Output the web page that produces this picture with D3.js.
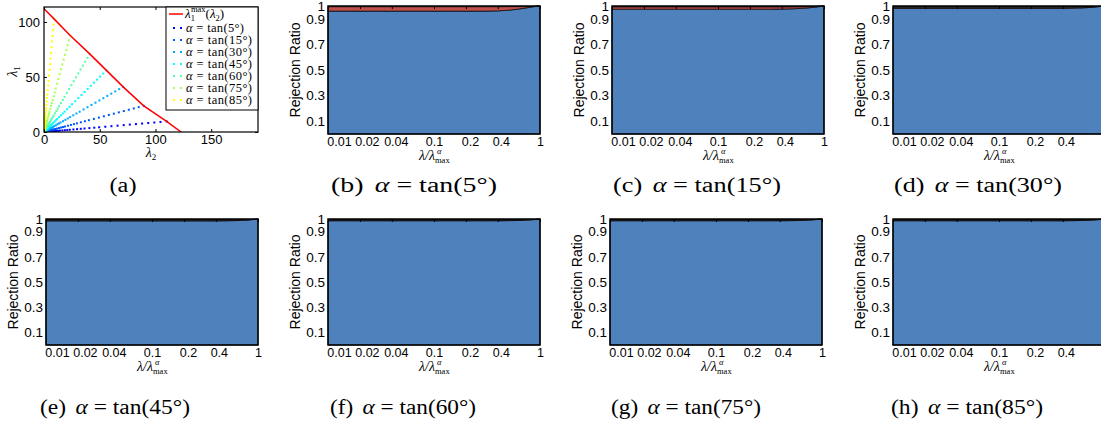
<!DOCTYPE html>
<html>
<head>
<meta charset="utf-8">
<title>Rejection ratio panels</title>
<script src="https://cdn.jsdelivr.net/npm/d3@7"></script>
<style>
  body { margin: 0; background: #fff; }
  text { font-family: "Liberation Sans", Arial, sans-serif; fill: #000; }
  .serif { font-family: "Liberation Serif", "Times New Roman", serif; }
</style>
</head>
<body>
<script>
// ---- panel (a): lambda_1^max(lambda_2) and the rays ----
var curveLam2 = [0, 9, 23.5, 41, 56, 71, 89.5, 110, 123];
var curveLam1 = [112, 102.8, 87.7, 71, 56, 41, 23.8, 9.6, 0];

var angles = [5, 15, 30, 45, 60, 75, 85];
var rayEndLam2 = [110, 89.5, 71, 56, 41, 23.5, 9];
var rayEndLam1 = [9.6, 23.8, 41, 56, 71, 87.7, 102.8];
var rayColors = ["#0000ff", "#0055ff", "#00aaff", "#00ffff", "#55ffaa", "#aaff55", "#ffff00"];
var rayFrac = [0.01, 0.012, 0.014, 0.016, 0.019, 0.022, 0.026, 0.03, 0.035, 0.04,
               0.046, 0.053, 0.06, 0.07, 0.08, 0.09, 0.1, 0.115, 0.13, 0.15,
               0.17, 0.19, 0.21, 0.24, 0.27, 0.3, 0.33, 0.37, 0.41, 0.45,
               0.5, 0.55, 0.6, 0.65, 0.7, 0.75, 0.8, 0.85, 0.9, 0.95, 1];

// ---- panels (b)-(h): rejection ratio vs lambda/lambda_max ----
var lamFrac = [0.01, 0.02, 0.04, 0.1, 0.2, 0.3, 0.4, 0.5, 0.6, 0.7, 0.8, 0.9, 1];
var blueB = [0.96, 0.96, 0.96, 0.96, 0.96, 0.96, 0.962, 0.967, 0.974, 0.982, 0.99, 0.996, 1];
var redB  = [0.034, 0.034, 0.034, 0.034, 0.034, 0.034, 0.032, 0.028, 0.021, 0.013, 0.006, 0.002, 0];
var blueC = [0.975, 0.975, 0.975, 0.975, 0.975, 0.975, 0.976, 0.978, 0.981, 0.985, 0.99, 0.995, 1];
var redC  = [0.017, 0.017, 0.017, 0.017, 0.017, 0.017, 0.016, 0.014, 0.012, 0.009, 0.006, 0.003, 0];
var blueD = [0.982, 0.982, 0.982, 0.982, 0.982, 0.982, 0.982, 0.983, 0.985, 0.988, 0.992, 0.996, 1];
var redD  = [0.005, 0.005, 0.005, 0.005, 0.005, 0.005, 0.005, 0.005, 0.004, 0.003, 0.002, 0.001, 0];
var blueE = [0.985, 0.985, 0.985, 0.985, 0.985, 0.985, 0.985, 0.986, 0.987, 0.989, 0.992, 0.996, 1];
var redE  = [0.004, 0.004, 0.004, 0.004, 0.004, 0.004, 0.004, 0.004, 0.003, 0.003, 0.002, 0.001, 0];
var blueF = [0.986, 0.986, 0.986, 0.986, 0.986, 0.986, 0.986, 0.987, 0.988, 0.99, 0.993, 0.996, 1];
var redF  = [0.003, 0.003, 0.003, 0.003, 0.003, 0.003, 0.003, 0.003, 0.003, 0.002, 0.002, 0.001, 0];
var blueG = [0.986, 0.986, 0.986, 0.986, 0.986, 0.986, 0.986, 0.987, 0.988, 0.99, 0.993, 0.996, 1];
var redG  = [0.003, 0.003, 0.003, 0.003, 0.003, 0.003, 0.003, 0.003, 0.003, 0.002, 0.002, 0.001, 0];
var blueH = [0.986, 0.986, 0.986, 0.986, 0.986, 0.986, 0.986, 0.987, 0.988, 0.99, 0.993, 0.996, 1];
var redH  = [0.003, 0.003, 0.003, 0.003, 0.003, 0.003, 0.003, 0.003, 0.003, 0.002, 0.002, 0.001, 0];

var xTicks = [0.01, 0.02, 0.04, 0.1, 0.2, 0.4, 1];
var xTickLabels = ["0.01", "0.02", "0.04", "0.1", "0.2", "0.4", "1"];
var xLabelShift = [11, 7, 4, 0, 4, 3, 0];   // labels sit a little right of their ticks in the original
var yTicks = [0.1, 0.3, 0.5, 0.7, 0.9, 1];
var yTickLabels = ["0.1", "0.3", "0.5", "0.7", "0.9", "1"];

var W = 1101, H = 421;
var svg = d3.select("body").append("svg").attr("width", W).attr("height", H);

function caption(cx, y, letter, angle, width) {
    var t = svg.append("text").attr("class", "serif")
        .attr("x", cx).attr("y", y)
        .attr("text-anchor", "middle")
        .style("font-size", "20px")
        .attr("textLength", width).attr("lengthAdjust", "spacingAndGlyphs");
    t.append("tspan").text("(" + letter + ")");
    if (angle != null) {
        t.append("tspan").attr("dx", 8).style("font-style", "italic").text("α");
        t.append("tspan").text(" = tan(" + angle + "°)");
    }
}

// ================= panel (a) =================
(function () {
    var L = 44, T = 7, Wd = 214, Ht = 125;
    var x = d3.scaleLinear().domain([0, 192]).range([L, L + Wd]);
    var y = d3.scaleLinear().domain([0, 113.6]).range([T + Ht, T]);
    var g = svg.append("g");

    g.append("clipPath").attr("id", "clipA")
        .append("rect").attr("x", L).attr("y", T).attr("width", Wd).attr("height", Ht);
    var inner = g.append("g").attr("clip-path", "url(#clipA)");

    angles.forEach(function (a, i) {
        inner.selectAll(".ray" + i)
            .data(rayFrac)
            .enter().append("rect")
            .attr("x", function (f) { return x(f * rayEndLam2[i]) - 1; })
            .attr("y", function (f) { return y(f * rayEndLam1[i]) - 1; })
            .attr("width", 2).attr("height", 2)
            .attr("fill", rayColors[i]);
    });

    var curve = d3.line()
        .x(function (d, i) { return x(curveLam2[i]); })
        .y(function (d, i) { return y(curveLam1[i]); });
    inner.append("path").datum(curveLam2)
        .attr("d", curve).attr("fill", "none")
        .attr("stroke", "#ff0000").attr("stroke-width", 1.5);

    var xAxis = g.append("g").attr("transform", "translate(0," + (T + Ht) + ")")
        .call(d3.axisBottom(x).tickValues([0, 50, 100, 150]).tickSizeInner(-3).tickSizeOuter(0).tickPadding(3));
    var xTop = g.append("g").attr("transform", "translate(0," + T + ")")
        .call(d3.axisTop(x).tickValues([0, 50, 100, 150]).tickSizeInner(-3).tickSizeOuter(0).tickFormat(""));
    var yAxis = g.append("g").attr("transform", "translate(" + L + ",0)")
        .call(d3.axisLeft(y).tickValues([0, 50, 100]).tickSizeInner(-3).tickSizeOuter(0).tickPadding(4));
    var yRight = g.append("g").attr("transform", "translate(" + (L + Wd) + ",0)")
        .call(d3.axisRight(y).tickValues([0, 50, 100]).tickSizeInner(-3).tickSizeOuter(0).tickFormat(""));
    [xAxis, xTop, yAxis, yRight].forEach(function (a) {
        a.select(".domain").remove();
        a.selectAll("text").style("font-size", "13px").attr("font-family", null);
        a.selectAll("line").attr("stroke", "#000");
    });

    g.append("rect").attr("x", L).attr("y", T).attr("width", Wd).attr("height", Ht)
        .attr("fill", "none").attr("stroke", "#000").attr("stroke-width", 1.2);

    // axis labels
    var xl = g.append("text").attr("class", "serif")
        .attr("x", L + Wd / 2).attr("y", T + Ht + 25).attr("text-anchor", "middle")
        .style("font-size", "14px");
    xl.append("tspan").style("font-style", "italic").text("λ");
    xl.append("tspan").attr("dy", 3).style("font-size", "9px").text("2");
    var yl = g.append("text").attr("class", "serif")
        .attr("transform", "translate(17," + (T + Ht / 2 + 2) + ") rotate(-90)")
        .attr("text-anchor", "middle").style("font-size", "14px");
    yl.append("tspan").style("font-style", "italic").text("λ");
    yl.append("tspan").attr("dy", 3).style("font-size", "9px").text("1");

    // legend
    var lx = 166, ly = 7, lw = 92, lh = 103;
    var lg = g.append("g");
    lg.append("rect").attr("x", lx).attr("y", ly).attr("width", lw).attr("height", lh)
        .attr("fill", "#fff").attr("stroke", "#000").attr("stroke-width", 1);
    lg.append("line").attr("x1", 169).attr("x2", 183).attr("y1", 14).attr("y2", 14)
        .attr("stroke", "#ff0000").attr("stroke-width", 1.5);
    var t0 = lg.append("text").attr("class", "serif").attr("x", 185).attr("y", 18)
        .style("font-size", "13px");
    t0.append("tspan").style("font-style", "italic").text("λ");
    t0.append("tspan").attr("dy", 3).style("font-size", "8.5px").text("1");
    t0.append("tspan").attr("dx", -4).attr("dy", -9).style("font-size", "8.5px").text("max");
    t0.append("tspan").attr("dy", 6).text("(");
    t0.append("tspan").style("font-style", "italic").text("λ");
    t0.append("tspan").attr("dy", 3).style("font-size", "8.5px").text("2");
    t0.append("tspan").attr("dy", -3).text(")");

    var rowY = [28, 40, 52, 64, 76, 88, 100];
    angles.forEach(function (a, i) {
        [174, 181].forEach(function (px) {
            lg.append("rect").attr("x", px - 1).attr("y", rowY[i] - 1)
                .attr("width", 2).attr("height", 2).attr("fill", rayColors[i]);
        });
        var t = lg.append("text").attr("class", "serif")
            .attr("x", 186).attr("y", rowY[i] + 4).style("font-size", "12.5px")
            .attr("textLength", a < 10 ? 58 : 66).attr("lengthAdjust", "spacing");
        t.append("tspan").style("font-style", "italic").text("α");
        t.append("tspan").text(" = tan(" + a + "°)");
    });
})();
caption(123, 192, "a", null, 27);

// ================= panels (b)-(h) =================
var panels = [
    { letter: "b", angle: 5,  blue: blueB, red: redB, left: 328, top: 6,   h: 128, cx: 414, cy: 192, cw: 166 },
    { letter: "c", angle: 15, blue: blueC, red: redC, left: 612, top: 6,   h: 128, cx: 697, cy: 192, cw: 168 },
    { letter: "d", angle: 30, blue: blueD, red: redD, left: 893, top: 6,   h: 128, cx: 978, cy: 192, cw: 168 },
    { letter: "e", angle: 45, blue: blueE, red: redE, left: 46,  top: 219, h: 126, cx: 115, cy: 414, cw: 150 },
    { letter: "f", angle: 60, blue: blueF, red: redF, left: 328, top: 219, h: 126, cx: 403, cy: 414, cw: 146 },
    { letter: "g", angle: 75, blue: blueG, red: redG, left: 610, top: 219, h: 126, cx: 686, cy: 414, cw: 150 },
    { letter: "h", angle: 85, blue: blueH, red: redH, left: 893, top: 219, h: 126, cx: 967, cy: 414, cw: 152 }
];
var colors = { blue: "#4f81bd", red: "#c0504d", rest: "#1a1a1a" };

panels.forEach(function (p, k) {
    var Wd = 212, L = p.left, T = p.top, B = p.top + p.h;
    var x = d3.scaleLog().domain([0.01, 1]).range([L, L + Wd]);
    var y = d3.scaleLinear().domain([0, 1]).range([B, T]);
    var g = svg.append("g");

    var rows = lamFrac.map(function (f, i) {
        return { f: f, blue: p.blue[i], red: p.red[i], rest: 1 - p.blue[i] - p.red[i] };
    });
    var series = d3.stack().keys(["blue", "red", "rest"])(rows);
    var area = d3.area().curve(d3.curveMonotoneX)
        .x(function (d) { return x(d.data.f); })
        .y0(function (d) { return y(d[0]); })
        .y1(function (d) { return y(d[1]); });

    g.selectAll("path.layer").data(series).enter().append("path")
        .attr("class", "layer")
        .attr("d", area)
        .attr("fill", function (s) { return colors[s.key]; })
        .attr("stroke", function (s) { return s.key === "rest" ? "none" : "#000"; })
        .attr("stroke-width", 0.7);

    // top ticks
    g.append("g").attr("transform", "translate(0," + T + ")")
        .call(d3.axisTop(x).tickValues(xTicks).tickSizeInner(-3).tickSizeOuter(0).tickFormat(""))
        .call(function (a) { a.select(".domain").remove(); a.selectAll("line").attr("stroke", "#000"); });

    var xa = g.append("g").attr("transform", "translate(0," + B + ")")
        .call(d3.axisBottom(x).tickValues(xTicks)
            .tickFormat(function (d, i) { return xTickLabels[i]; })
            .tickSize(0).tickPadding(3));
    var ya = g.append("g").attr("transform", "translate(" + L + ",0)")
        .call(d3.axisLeft(y).tickValues(yTicks)
            .tickFormat(function (d, i) { return yTickLabels[i]; })
            .tickSize(0).tickPadding(3));
    [xa, ya].forEach(function (a) {
        a.select(".domain").remove();
        a.selectAll("text").style("font-size", "13.5px").attr("font-family", null);
    });
    xa.selectAll("text").style("font-size", "12.5px")
        .attr("dx", function (d, i) { return xLabelShift[i]; });

    g.append("rect").attr("x", L).attr("y", T).attr("width", Wd).attr("height", p.h)
        .attr("fill", "none").attr("stroke", "#000").attr("stroke-width", 1.5);

    // y label
    g.append("text")
        .attr("transform", "translate(" + (L - 28) + "," + (T + p.h / 2) + ") rotate(-90)")
        .attr("text-anchor", "middle").style("font-size", "14px")
        .text("Rejection Ratio");

    // x label  λ/λ^α_max
    var cx = L + Wd / 2;
    g.append("text").attr("class", "serif")
        .attr("x", cx + 1).attr("y", B + 26).attr("text-anchor", "end")
        .style("font-size", "14px").style("font-style", "italic").text("λ/λ");
    g.append("text").attr("class", "serif")
        .attr("x", cx + 3).attr("y", B + 20)
        .style("font-size", "8.5px").style("font-style", "italic").text("α");
    g.append("text").attr("class", "serif")
        .attr("x", cx + 1).attr("y", B + 29)
        .style("font-size", "8.5px").text("max");

    caption(p.cx, p.cy, p.letter, p.angle, p.cw);
});
</script>
</body>
</html>
